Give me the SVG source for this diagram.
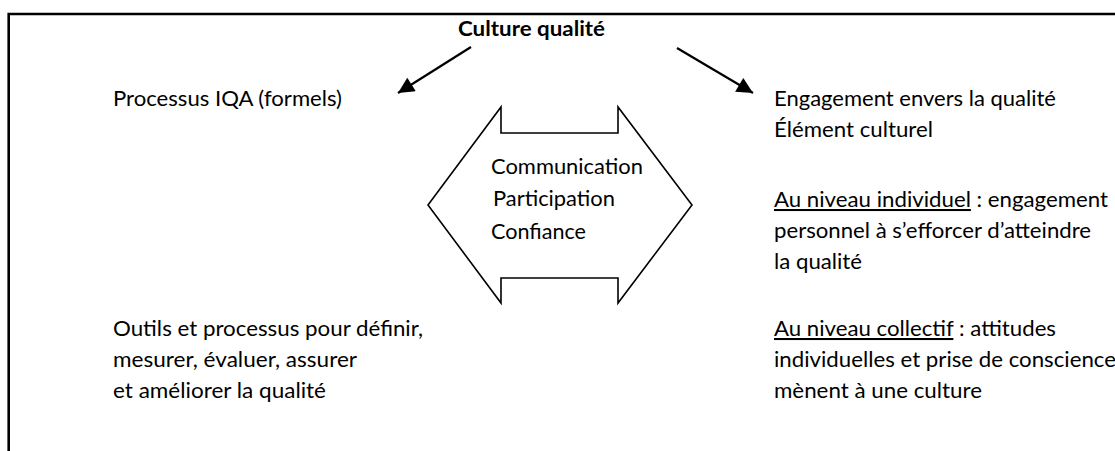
<svg xmlns="http://www.w3.org/2000/svg" width="1115" height="451" viewBox="0 0 1115 451">
  <defs>
    <style>
      .t { font-family: Lato, "Liberation Sans", sans-serif; font-size: 20.5px; fill: #000; }
      .b { font-weight: bold; }
      .u { text-decoration: underline; }
      .frame { fill: none; stroke: #000; stroke-width: 2.6; }
      .conn { fill: none; stroke: #000; stroke-width: 2.2; }
      .shape { fill: #fff; stroke: #000; stroke-width: 1.6; stroke-linejoin: miter; }
    </style>
    <marker id="head" viewBox="0 0 10 10" refX="10" refY="5" markerUnits="userSpaceOnUse" markerWidth="20" markerHeight="16" orient="auto">
      <path d="M0,0 L10,5 L0,10 Z" fill="#000"/>
    </marker>
  </defs>

  <rect width="1115" height="451" fill="#fff"/>

  <!-- open frame: top and left edges only -->
  <path class="frame" d="M8.7,451 L8.7,14 L1115,14"/>

  <!-- title -->
  <g id="title">
    <text class="t b" x="458" y="36" textLength="147" lengthAdjust="spacingAndGlyphs">Culture qualité</text>
  </g>

  <!-- connectors from the title to both columns -->
  <g id="connectors">
    <line class="conn" x1="471" y1="47" x2="398" y2="93" marker-end="url(#head)"/>
    <line class="conn" x1="677" y1="48" x2="753" y2="93" marker-end="url(#head)"/>
  </g>

  <!-- left column: formal processes -->
  <g id="processus">
    <text class="t" x="113" y="106" textLength="229" lengthAdjust="spacingAndGlyphs">Processus IQA (formels)</text>
  </g>
  <g id="outils">
    <text class="t" x="113" y="336" textLength="310" lengthAdjust="spacingAndGlyphs">Outils et processus pour définir,</text>
    <text class="t" x="113" y="367" textLength="244" lengthAdjust="spacingAndGlyphs">mesurer, évaluer, assurer</text>
    <text class="t" x="113" y="398" textLength="213" lengthAdjust="spacingAndGlyphs">et améliorer la qualité</text>
  </g>

  <!-- central double arrow -->
  <g id="echanges">
    <polygon class="shape" points="501,107 501,133 618,133 618,107 692,205 618,303 618,278 501,278 501,303 428,205"/>
    <text class="t" x="491" y="174" textLength="152" lengthAdjust="spacingAndGlyphs">Communication</text>
    <text class="t" x="493" y="206" textLength="122" lengthAdjust="spacingAndGlyphs">Participation</text>
    <text class="t" x="491" y="239" textLength="95" lengthAdjust="spacingAndGlyphs">Confiance</text>
  </g>

  <!-- right column: cultural element -->
  <g id="engagement">
    <text class="t" x="774" y="106" textLength="282" lengthAdjust="spacingAndGlyphs">Engagement envers la qualité</text>
    <text class="t" x="774" y="137" textLength="159" lengthAdjust="spacingAndGlyphs">Élément culturel</text>
  </g>
  <g id="individuel">
    <text class="t" x="774" y="207" textLength="334" lengthAdjust="spacingAndGlyphs"><tspan class="u">Au niveau individuel</tspan> : engagement</text>
    <text class="t" x="774" y="238" textLength="317" lengthAdjust="spacingAndGlyphs">personnel à s’efforcer d’atteindre</text>
    <text class="t" x="774" y="269" textLength="88" lengthAdjust="spacingAndGlyphs">la qualité</text>
  </g>
  <g id="collectif">
    <text class="t" x="774" y="336" textLength="282" lengthAdjust="spacingAndGlyphs"><tspan class="u">Au niveau collectif</tspan> : attitudes</text>
    <text class="t" x="774" y="367" textLength="342" lengthAdjust="spacingAndGlyphs">individuelles et prise de conscience</text>
    <text class="t" x="774" y="398" textLength="208" lengthAdjust="spacingAndGlyphs">mènent à une culture</text>
  </g>
</svg>
